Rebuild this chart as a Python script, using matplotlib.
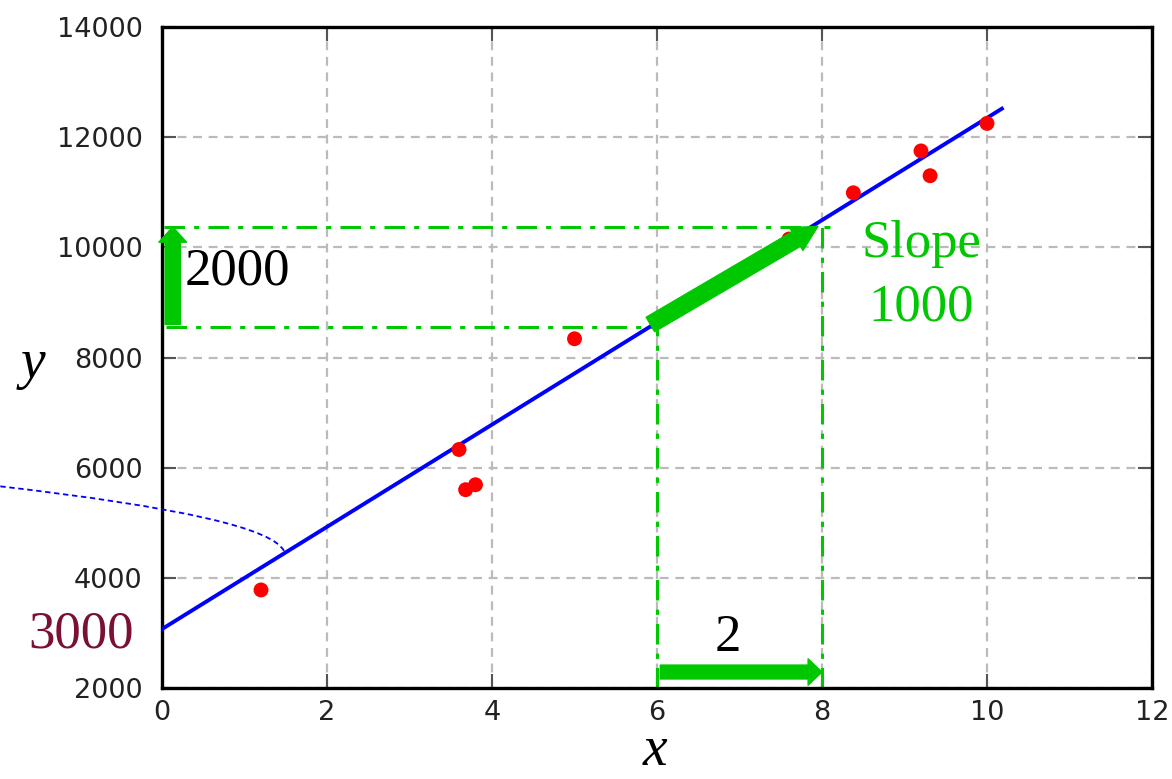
import numpy as np
import matplotlib
matplotlib.use("Agg")
import matplotlib.pyplot as plt
from matplotlib.path import Path
from matplotlib.patches import PathPatch

# scattered observations
xs = [1.2, 3.6, 3.68, 3.8, 5.0, 7.6, 8.38, 9.2, 9.31, 10.0]
ys = [3780, 6330, 5600, 5690, 8340, 10150, 10990, 11750, 11300, 12250]

# fitted straight line
intercept = 3070
slope = 928
x_line = [0, 10.18]

# rise / run guides
run_x = [6, 8]
rise_y = [8550, 10370]

# dashed pointer curve (start, control, end)
pointer = [(-1.96, 5661), (1.3, 5100), (1.48, 4483)]

green = "#00c800"
serif = "Liberation Serif"

fig = plt.figure(figsize=(11.72, 7.79), dpi=100)
ax = fig.add_axes([162 / 1172, 1 - 688 / 779, 990 / 1172, 661 / 779])

ax.set_xlim(0, 12)
ax.set_ylim(2000, 14000)
ax.set_xticks(range(0, 13, 2))
ax.set_yticks(range(2000, 14001, 2000))
ax.grid(True, color="#bbbbbb", linestyle=(0, (4, 3)), linewidth=1.6)
ax.set_axisbelow(True)
for s in ax.spines.values():
    s.set_linewidth(2.4)
ax.tick_params(direction="in", top=True, right=True, length=10, width=1.5,
               color="#555555", labelsize=19.5, labelcolor="#222222")
ax.tick_params(axis="y", pad=14)
ax.tick_params(axis="x", pad=9)

# line and points
yl = [intercept + slope * v for v in x_line]
ax.plot(x_line, yl, color="blue", lw=2.8, zorder=3)
ax.scatter(xs, ys, s=115, color="red", edgecolors="none", zorder=4)

# guides
dd = (0, (6.7, 3, 1.7, 3))
ax.plot([0.05, run_x[0]], [rise_y[0], rise_y[0]], color=green, lw=2.2, linestyle=dd, zorder=2)
ax.plot([0.03, run_x[1] + 0.1], [rise_y[1], rise_y[1]], color=green, lw=2.2, linestyle=dd, zorder=2)
ax.plot([run_x[0], run_x[0]], [2000, rise_y[0]], color=green, lw=2.2, linestyle=dd, zorder=2)
ax.plot([run_x[1], run_x[1]], [2000, rise_y[1]], color=green, lw=2.2, linestyle=dd, zorder=2)

# arrows
def arrow(tail, tip, hw, hl, tw):
    ax.annotate("", xy=tip, xytext=tail,
                arrowprops=dict(arrowstyle=f"simple,head_width={hw},head_length={hl},tail_width={tw}",
                                color=green, shrinkA=0, shrinkB=0, mutation_scale=20),
                zorder=5, annotation_clip=False)

arrow((0.13, 8600), (0.13, rise_y[1]), 1.0, 0.55, 0.55)
arrow((6.04, 2290), (run_x[1], 2290), 0.95, 0.5, 0.5)
arrow((5.92, 8600), (7.95, 10380), 0.95, 0.9, 0.6)

# pointer curve
p = PathPatch(Path(pointer, [Path.MOVETO, Path.CURVE3, Path.CURVE3]),
              fill=False, edgecolor="blue", lw=1.3, linestyle=(0, (3, 2)),
              clip_on=False, zorder=3)
ax.add_patch(p)

# labels
ax.text(0.28, 9323, "2000", fontsize=38, family=serif, color="black", va="baseline")
ax.text(9.2, 9818, "Slope", fontsize=38, family=serif, color=green, ha="center", va="baseline")
ax.text(9.2, 8670, "1000", fontsize=38, family=serif, color=green, ha="center", va="baseline")
ax.text(6.86, 2670, "2", fontsize=38, family=serif, color="black", ha="center", va="baseline")
ax.text(-0.34, 2743, "3000", fontsize=38, family=serif, color="#7a1033", ha="right",
        va="baseline", clip_on=False)

fig.text(655 / 1172, 0.003, "x", fontsize=40, family=serif, style="italic",
         ha="center", va="bottom")
fig.text(33 / 1172, 1 - 378 / 779, "y", fontsize=40, family=serif, style="italic",
         ha="center", va="baseline")

fig.savefig("out.png", dpi=100)
